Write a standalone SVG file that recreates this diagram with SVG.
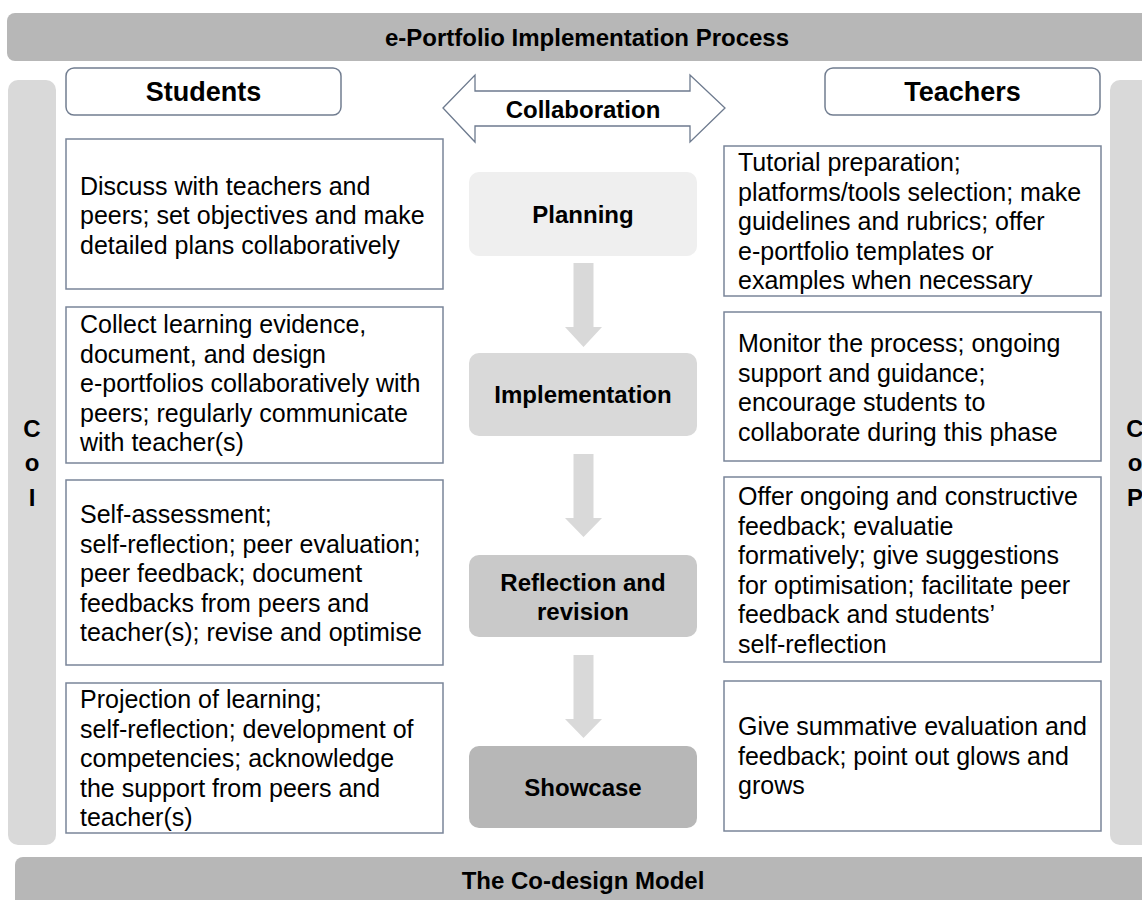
<svg xmlns="http://www.w3.org/2000/svg" width="1142" height="900" viewBox="0 0 1142 900">
<style>
.banner{fill:#b7b7b7}
.side{fill:#d9d9d9}
.hdr{fill:#ffffff;stroke:#717d90;stroke-width:1.5}
.box{fill:#ffffff;stroke:#7a8599;stroke-width:1.5}
.t{font-family:"Liberation Sans",Arial,Helvetica,sans-serif;fill:#000}
.b{font-weight:bold}
.body{font-size:25px}
.lbl{font-size:24px;font-weight:bold}
.hd{font-size:27px;font-weight:bold}
.side-t{font-size:24px;font-weight:bold}
.darr{fill:#d9d9d9}
.collab{fill:#ffffff;stroke:#6d7a8e;stroke-width:1.3}
</style>
<rect width="1142" height="900" fill="#ffffff"/>

<g id="banner-top">
<rect class="banner" x="7" y="13" width="1160" height="48" rx="8"/>
<text class="t lbl" x="587" y="46" text-anchor="middle">e-Portfolio Implementation Process</text>
</g>

<g id="banner-bottom">
<rect class="banner" x="15" y="857" width="1160" height="60" rx="8"/>
<text class="t lbl" x="583" y="889" text-anchor="middle">The Co-design Model</text>
</g>

<g id="side-coi">
<rect class="side" x="8" y="80" width="48" height="765" rx="10"/>
<text class="t side-t" x="32" y="437" text-anchor="middle">C</text>
<text class="t side-t" x="32" y="471" text-anchor="middle">o</text>
<text class="t side-t" x="32" y="506" text-anchor="middle">I</text>
</g>

<g id="side-cop">
<rect class="side" x="1110" y="80" width="60" height="765" rx="10"/>
<text class="t side-t" x="1135" y="437" text-anchor="middle">C</text>
<text class="t side-t" x="1135" y="471" text-anchor="middle">o</text>
<text class="t side-t" x="1135" y="506" text-anchor="middle">P</text>
</g>

<g id="hdr-students">
<rect class="hdr" x="66" y="68" width="275" height="47" rx="8"/>
<text class="t hd" x="203.5" y="101" text-anchor="middle">Students</text>
</g>

<g id="hdr-teachers">
<rect class="hdr" x="825" y="68" width="275" height="47" rx="8"/>
<text class="t hd" x="962.5" y="101" text-anchor="middle">Teachers</text>
</g>

<g id="collaboration">
<polygon class="collab" points="443,108 475,75 475,91 690,91 690,75 725,108 690,142 690,126 475,126 475,142"/>
<text class="t lbl" x="583" y="118" text-anchor="middle">Collaboration</text>
</g>

<g id="s-planning">
<rect class="box" x="66" y="139" width="377" height="150"/>
<text class="t body" x="80"><tspan x="80" y="194.5">Discuss with teachers and</tspan><tspan x="80" y="224">peers; set objectives and make</tspan><tspan x="80" y="253.5">detailed plans collaboratively</tspan></text>
</g>

<g id="s-implementation">
<rect class="box" x="66" y="307" width="377" height="156"/>
<text class="t body"><tspan x="80" y="333">Collect learning evidence,</tspan><tspan x="80" y="362.5">document, and design</tspan><tspan x="80" y="392">e-portfolios collaboratively with</tspan><tspan x="80" y="421.5">peers; regularly communicate</tspan><tspan x="80" y="451">with teacher(s)</tspan></text>
</g>

<g id="s-reflection">
<rect class="box" x="66" y="480" width="377" height="185"/>
<text class="t body"><tspan x="80" y="523">Self-assessment;</tspan><tspan x="80" y="552.5">self-reflection; peer evaluation;</tspan><tspan x="80" y="582">peer feedback; document</tspan><tspan x="80" y="611.5">feedbacks from peers and</tspan><tspan x="80" y="641">teacher(s); revise and optimise</tspan></text>
</g>

<g id="s-showcase">
<rect class="box" x="66" y="683" width="377" height="150"/>
<text class="t body"><tspan x="80" y="708">Projection of learning;</tspan><tspan x="80" y="737.5">self-reflection; development of</tspan><tspan x="80" y="767">competencies; acknowledge</tspan><tspan x="80" y="796.5">the support from peers and</tspan><tspan x="80" y="826">teacher(s)</tspan></text>
</g>

<g id="t-planning">
<rect class="box" x="724" y="146" width="377" height="150"/>
<text class="t body"><tspan x="738" y="171">Tutorial preparation;</tspan><tspan x="738" y="200.5">platforms/tools selection; make</tspan><tspan x="738" y="230">guidelines and rubrics; offer</tspan><tspan x="738" y="259.5">e-portfolio templates or</tspan><tspan x="738" y="289">examples when necessary</tspan></text>
</g>

<g id="t-implementation">
<rect class="box" x="724" y="312" width="377" height="149"/>
<text class="t body"><tspan x="738" y="352">Monitor the process; ongoing</tspan><tspan x="738" y="381.5">support and guidance;</tspan><tspan x="738" y="411">encourage students to</tspan><tspan x="738" y="440.5">collaborate during this phase</tspan></text>
</g>

<g id="t-reflection">
<rect class="box" x="724" y="477" width="377" height="185"/>
<text class="t body"><tspan x="738" y="505">Offer ongoing and constructive</tspan><tspan x="738" y="534.5">feedback; evaluatie</tspan><tspan x="738" y="564">formatively; give suggestions</tspan><tspan x="738" y="593.5">for optimisation; facilitate peer</tspan><tspan x="738" y="623">feedback and students’</tspan><tspan x="738" y="652.5">self-reflection</tspan></text>
</g>

<g id="t-showcase">
<rect class="box" x="724" y="681" width="377" height="150"/>
<text class="t body"><tspan x="738" y="735">Give summative evaluation and</tspan><tspan x="738" y="764.5">feedback; point out glows and</tspan><tspan x="738" y="794">grows</tspan></text>
</g>

<g id="phase-planning">
<rect x="469" y="172" width="228" height="84" rx="10" fill="#efefef"/>
<text class="t lbl" x="583" y="223" text-anchor="middle">Planning</text>
</g>

<g id="phase-implementation">
<rect x="469" y="353" width="228" height="83" rx="10" fill="#d9d9d9"/>
<text class="t lbl" x="583" y="403" text-anchor="middle">Implementation</text>
</g>

<g id="phase-reflection">
<rect x="469" y="555" width="228" height="82" rx="10" fill="#c9c9c9"/>
<text class="t lbl" x="583" y="591" text-anchor="middle">Reflection and</text>
<text class="t lbl" x="583" y="620" text-anchor="middle">revision</text>
</g>

<g id="phase-showcase">
<rect x="469" y="746" width="228" height="82" rx="10" fill="#b7b7b7"/>
<text class="t lbl" x="583" y="796" text-anchor="middle">Showcase</text>
</g>

<g id="connectors">
<polygon class="darr" points="573.5,263 593.5,263 593.5,327 602,327 583.5,347 565,327 573.5,327"/>
<polygon class="darr" points="573.5,454 593.5,454 593.5,518 602,518 583.5,537 565,518 573.5,518"/>
<polygon class="darr" points="573.5,655 593.5,655 593.5,719 602,719 583.5,738 565,719 573.5,719"/>
</g>
</svg>
